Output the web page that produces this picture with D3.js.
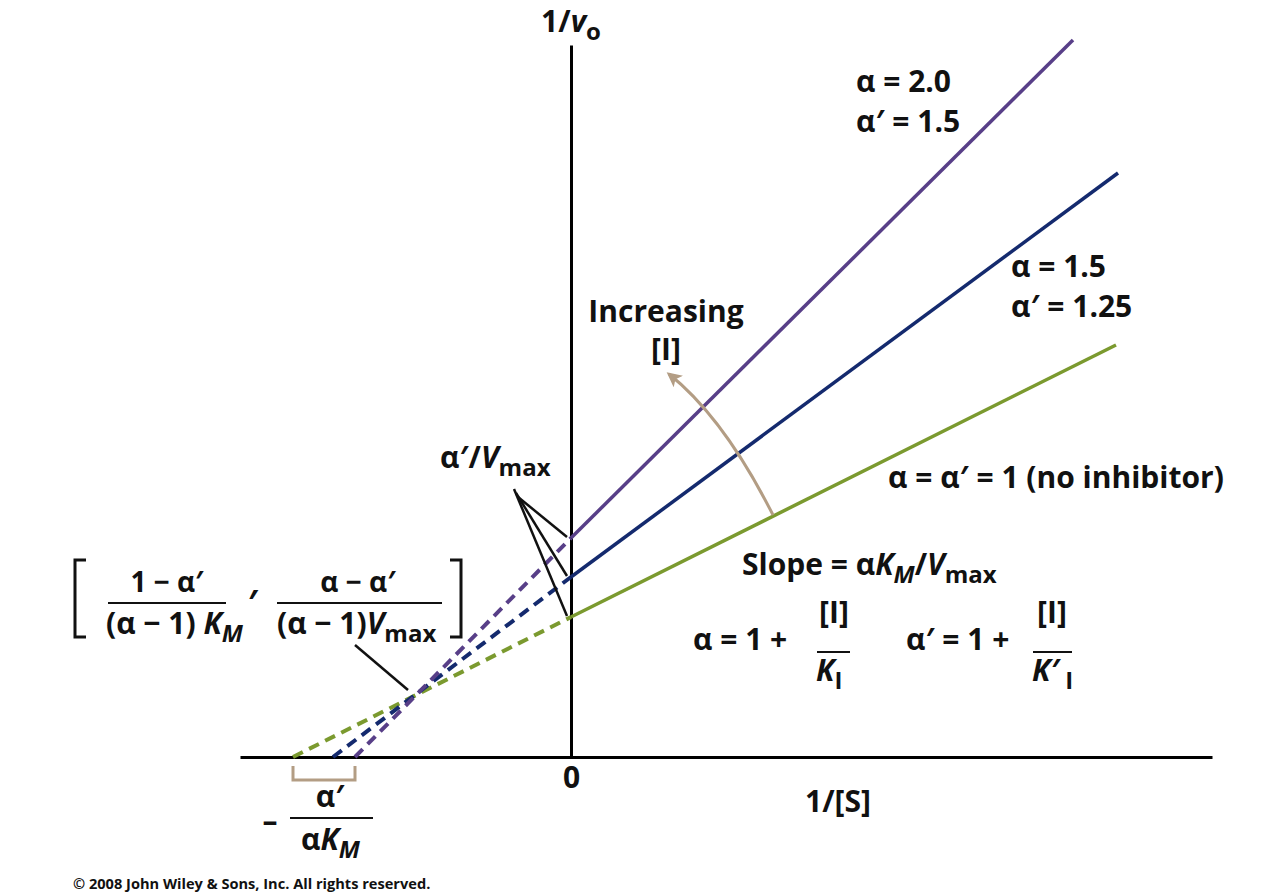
<!DOCTYPE html>
<html><head><meta charset="utf-8">
<script src="https://cdn.jsdelivr.net/npm/d3@7"></script>
<style>
html,body{margin:0;padding:0;background:#fff;}
svg{display:block;}
text{font-family:"Open Sans","Noto Sans",sans-serif;font-weight:700;fill:#111;}
</style></head>
<body>
<svg id="chart" width="1262" height="892"></svg>
<script>
// ---- data (1/[S] and 1/v0 in arbitrary units) ----
const seriesNames = ["no inhibitor", "alpha 1.5 / alpha' 1.25", "alpha 2.0 / alpha' 1.5"];
const seriesColors = ["#7b9a2f", "#142a6e", "#583f88"];
const xIntercepts = [-2.78, -2.38, -2.16];   // dashed lines reach the 1/[S] axis
const yIntercepts = [1.40, 1.80, 2.19];      // alpha'/Vmax on the 1/v0 axis
const endX = [5.45, 5.47, 5.02];             // end of solid lines
const endY = [4.12, 5.84, 7.17];
const intersection = [-1.58, 0.62];
const xTickValues = [0];
const xTickLabels = ["0"];

const svg = d3.select("#chart");
const x = d3.scaleLinear().domain([-3.31, 6.41]).range([240, 1212]);
const y = d3.scaleLinear().domain([0, 7.12]).range([757, 45]);
const FS = 30;

// ---- axes ----
const xAxis = svg.append("g").attr("transform", `translate(0,${y(0)})`)
  .call(d3.axisBottom(x).tickValues(xTickValues).tickFormat((d,i)=>xTickLabels[i]).tickSize(0).tickSizeOuter(0));
xAxis.select(".domain").attr("stroke", "#000").attr("stroke-width", 3);
xAxis.selectAll(".tick text").attr("y", 31).attr("dy", 0)
  .style("font-family", '"Open Sans",sans-serif').style("font-weight", 700).style("font-size", FS + "px").attr("fill", "#111");

const yAxis = svg.append("g").attr("transform", `translate(${x(0)},0)`)
  .call(d3.axisLeft(y).tickValues([]).tickSizeOuter(0));
yAxis.select(".domain").attr("stroke", "#000").attr("stroke-width", 3);

// ---- lines ----
const lineGen = d3.line().x(d => x(d[0])).y(d => y(d[1]));
const lines = seriesNames.map((n, i) => ({
  name: n, color: seriesColors[i],
  dashed: [[xIntercepts[i], 0], [0, yIntercepts[i]]],
  solid: [[0, yIntercepts[i]], [endX[i], endY[i]]]
}));
const lg = svg.append("g");
lg.selectAll("path.dash").data(lines).join("path").attr("class", "dash")
  .attr("d", d => lineGen(d.dashed)).attr("fill", "none").attr("stroke", d => d.color)
  .attr("stroke-width", 4).attr("stroke-dasharray", "11,7");
lg.selectAll("path.solid").data(lines).join("path").attr("class", "solid")
  .attr("d", d => lineGen(d.solid)).attr("fill", "none").attr("stroke", d => d.color)
  .attr("stroke-width", 3.5);

// ---- annotation helpers ----
function rich(px, py, segs, opts = {}) {
  const size = opts.size || FS;
  const t = svg.append("text").attr("x", px).attr("y", py)
    .attr("text-anchor", opts.anchor || "start").style("font-size", size + "px");
  let cur = 0;
  segs.forEach(s => {
    const [txt, kind] = Array.isArray(s) ? s : [s, ""];
    const sp = t.append("tspan").text(txt);
    let target = 0;
    if (kind.includes("sub")) { target = 8; sp.style("font-size", (size * 0.8) + "px"); }
    if (kind.includes("i")) sp.style("font-style", "italic");
    if (target !== cur) { sp.attr("dy", target - cur); cur = target; }
  });
  return t;
}
function hline(x1, x2, yy, w = 2.2) {
  svg.append("line").attr("x1", x1).attr("x2", x2).attr("y1", yy).attr("y2", yy)
    .attr("stroke", "#111").attr("stroke-width", w);
}

// axis titles
rich(571, 32, ["1/", ["v", "i"], ["o", "sub"]], {anchor: "middle"});
rich(838, 812, ["1/[S]"], {anchor: "middle"});

// series labels
rich(856, 92, ["α  = 2.0"]);
rich(856, 132, ["α′ = 1.5"]);
rich(1011, 277, ["α  = 1.5"]);
rich(1011, 317, ["α′  = 1.25"]);
rich(888, 488, ["α = α′ = 1 (no inhibitor)"]);

// increasing [I]
rich(666, 322, ["Increasing"], {anchor: "middle"});
rich(666, 360, ["[I]"], {anchor: "middle"});

const tan = "#b39d84";
svg.append("defs").append("marker").attr("id", "arr").attr("viewBox", "0 0 10 10")
  .attr("refX", 8).attr("refY", 5).attr("markerWidth", 5).attr("markerHeight", 5)
  .attr("orient", "auto").attr("markerUnits", "strokeWidth")
  .append("path").attr("d", "M0,0 L10,5 L0,10 L2.5,5 Z").attr("fill", tan);
const arcStart = [2.02, 2.42], arcCtrl = [1.53, 3.39], arcEnd = [0.98, 3.83];
svg.append("path")
  .attr("d", `M${x(arcStart[0])},${y(arcStart[1])} Q${x(arcCtrl[0])},${y(arcCtrl[1])} ${x(arcEnd[0])},${y(arcEnd[1])}`)
  .attr("fill", "none").attr("stroke", tan).attr("stroke-width", 3).attr("marker-end", "url(#arr)");

// alpha'/Vmax callout
rich(440, 468, ["α′/", ["V", "i"], ["max", "sub"]]);
yIntercepts.forEach((yi, i) => {
  svg.append("line").attr("x1", 514 + i * 2).attr("y1", 489 + i * 4)
    .attr("x2", x(0) - 4).attr("y2", y(yi) - 1)
    .attr("stroke", "#111").attr("stroke-width", 2.5);
});

// intersection bracket expression
function bracket(xx, dir) {
  svg.append("path").attr("d", `M${xx + dir * 11},560 H${xx} V637 H${xx + dir * 11}`)
    .attr("fill", "none").attr("stroke", "#111").attr("stroke-width", 3);
}
bracket(75, 1);
bracket(461, -1);
rich(167, 592, ["1 − α′"], {anchor: "middle", size: 28});
hline(108, 226, 603);
rich(106, 634, ["(α − 1) ", ["K", "i"], ["M", "isub"]]);
rich(253, 614, ["′"], {anchor: "middle", size: 34});
rich(358, 592, ["α − α′"], {anchor: "middle", size: 28});
hline(277, 442, 603);
rich(277, 634, ["(α − 1)", ["V", "i"], ["max", "sub"]]);
svg.append("line").attr("x1", 355).attr("y1", 645)
  .attr("x2", x(intersection[0]) - 5).attr("y2", y(intersection[1]) - 5)
  .attr("stroke", "#111").attr("stroke-width", 2.5);

// x-intercept bracket
svg.append("path")
  .attr("d", `M${x(xIntercepts[0])},766 V780 H${x(xIntercepts[2])} V766`)
  .attr("fill", "none").attr("stroke", tan).attr("stroke-width", 3);
rich(270, 832, ["–"], {anchor: "middle"});
rich(330, 807, ["α′"], {anchor: "middle"});
hline(290, 373, 818);
rich(301, 850, ["α", ["K", "i"], ["M", "isub"]]);

// slope + alpha definitions
rich(742, 575, ["Slope = α", ["K", "i"], ["M", "isub"], ["/", ""], ["V", "i"], ["max", "sub"]]);
rich(693, 650, ["α = 1 + "]);
rich(834, 623, ["[I]"], {anchor: "middle"});
hline(817, 850, 652);
rich(816, 681, [["K", "i"], ["I", "sub"]]);
rich(906, 650, ["α′ = 1 + "]);
rich(1052, 623, ["[I]"], {anchor: "middle"});
hline(1033, 1072, 652);
rich(1032, 681, [["K′", "i"], [" I", "sub"]]);

// copyright
svg.append("text").attr("x", 73).attr("y", 889).style("font-size", "14.6px")
  .text("© 2008 John Wiley & Sons, Inc. All rights reserved.");
</script>
</body></html>
